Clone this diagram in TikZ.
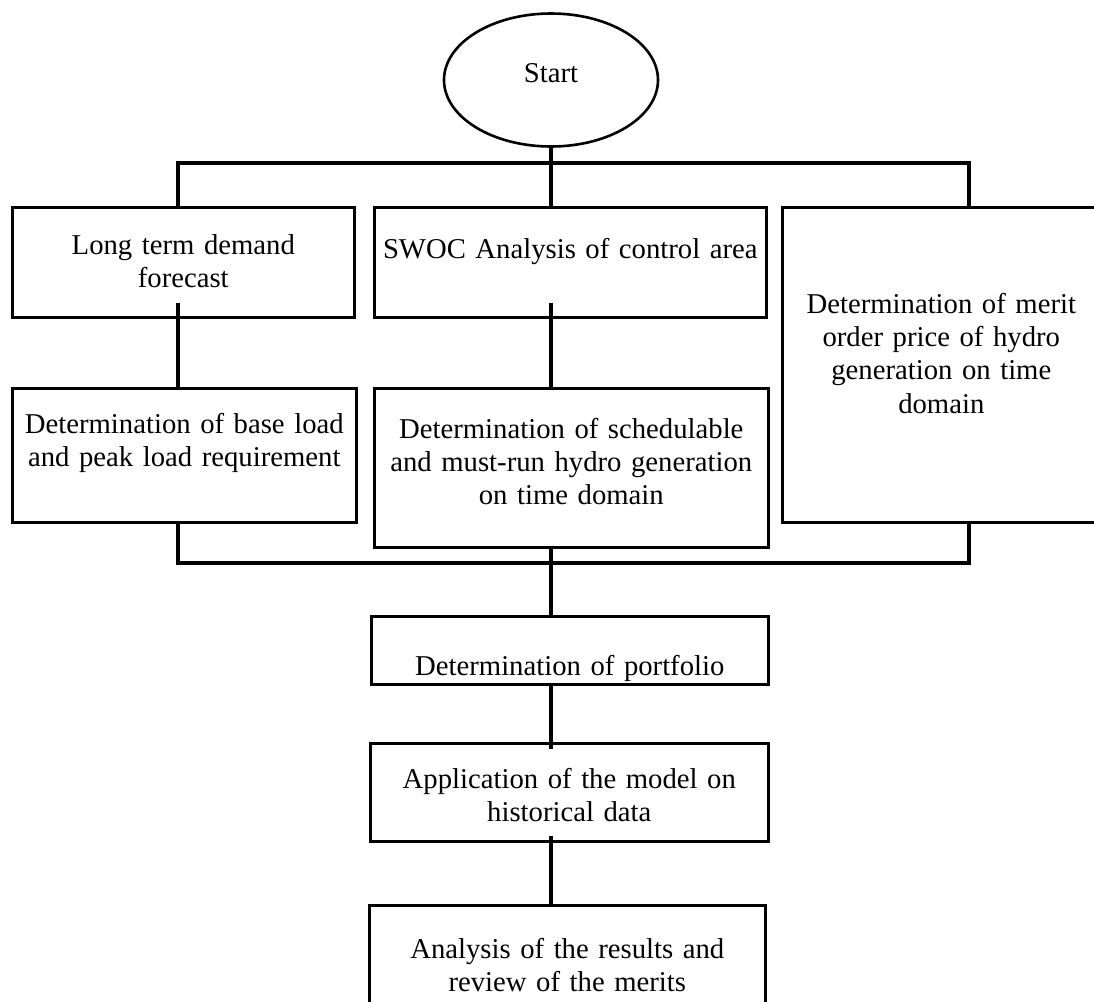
\documentclass[tikz,border=0pt]{standalone}
\usepackage{fontspec}
\setmainfont{Liberation Serif}
\usetikzlibrary{shapes.geometric, calc}

\begin{document}
\begin{tikzpicture}[
        x=1pt, y=-1pt,
        font=\fontsize{28.7pt}{33.3pt}\selectfont,
        block/.style={rectangle, draw=black, line width=2.6pt, inner sep=0pt, align=center, anchor=north west},
        terminal/.style={ellipse, draw=black, line width=2.6pt, inner sep=0pt, minimum width=214pt, minimum height=133pt},
        link/.style={line width=4.5pt}
    ]

        % Marco de la figura (recorta las cajas que salen del borde)
        \useasboundingbox (0,0) rectangle (1094,1001);
        \clip (0,0) rectangle (1094,1001);

        % Inicio
        \node[terminal, text depth=14pt] (start) at (551,80) {Start};

        % Primera fila de cajas
        \node[block, text width=342pt, text height=47pt, text depth=63pt] (b1) at (11,206) {Long term demand\\forecast};
        \node[block, text width=392pt, text height=51pt, text depth=59pt] (b2) at (373,206) {SWOC Analysis of control area};
        \node[block, text width=318pt, text height=106pt, text depth=209pt] (b3) at (781,206) {Determination of merit\\order price of hydro\\generation on time\\domain};

        % Segunda fila
        \node[block, text width=344pt, text height=45pt, text depth=89pt] (b4) at (11,387) {Determination of base load\\and peak load requirement};
        \node[block, text width=394pt, text height=50pt, text depth=109pt] (b5) at (373,387) {Determination of schedulable\\and must-run hydro generation\\on time domain};

        % Columna central inferior
        \node[block, text width=397pt, text height=59pt, text depth=9pt] (b6) at (370,615) {Determination of portfolio};
        \node[block, text width=398pt, text height=45pt, text depth=53pt] (b7) at (369,742) {Application of the model on\\historical data};
        \node[block, text width=396pt, text height=53pt, text depth=68pt] (b8) at (368,904) {Analysis of the results and\\review of the merits};

        % Barras de reparto
        \coordinate (topL) at (178,163);
        \coordinate (topR) at (969,163);
        \coordinate (botL) at (178,563);
        \coordinate (botR) at (969,563);

        % Conexiones
        \draw[link] (start.south) -- (start.south |- b2.north);
        \draw[link] (topL |- b1.north) -- (topL) -- (topR) -- (topR |- b3.north);
        \draw[link] ($(topL |- b1.south)+(0,-16)$) -- (topL |- b4.north);
        \draw[link] ($(start |- b2.south)+(0,-16)$) -- (start |- b5.north);
        \draw[link] (topL |- b4.south) -- (botL) -- (botR) -- (topR |- b3.south);
        \draw[link] (start |- b5.south) -- (start |- b6.north);
        \draw[link] (start |- b6.south) -- ($(start |- b7.north)+(0,7)$);
        \draw[link] ($(start |- b7.south)+(0,-7)$) -- ($(start |- b8.north)+(0,3)$);

    \end{tikzpicture}
\end{document}
